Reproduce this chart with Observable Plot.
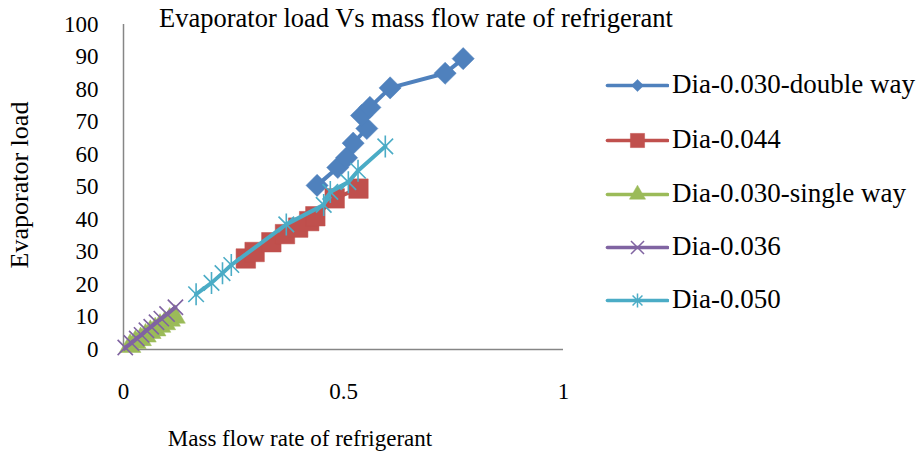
<!DOCTYPE html>
<html>
<head>
<meta charset="utf-8">
<script src="https://cdn.jsdelivr.net/npm/d3@7"></script>
<script src="https://cdn.jsdelivr.net/npm/@observablehq/plot@0.6"></script>
<style>
  html, body { margin: 0; padding: 0; background: #fff; }
  #wrap { position: relative; width: 921px; height: 463px; font-family: "Liberation Serif", serif; color: #000; }
  #wrap > svg { position: absolute; left: 0; top: 0; }
  .ov { position: absolute; white-space: nowrap; font-family: "Liberation Serif", serif; }
  .legrow { position: absolute; left: 605px; width: 316px; height: 30px; white-space: nowrap; }
  .legrow svg { position: absolute; left: 0; top: 0; max-width: none !important; }
  .legrow span { position: absolute; left: 67px; top: 50%; transform: translateY(-52%); font-size: 27px; line-height: 1; font-family: "Liberation Serif", serif; }
</style>
</head>
<body>
<div id="wrap"></div>
<script>
// ---- data ----
const seriesNames = ["Dia-0.030-double way", "Dia-0.044", "Dia-0.030-single way", "Dia-0.036", "Dia-0.050"];
const seriesColors = ["#4F81BD", "#C0504D", "#9BBB59", "#8064A2", "#4BACC6"];

const doubleWayX = [0.44, 0.487, 0.507, 0.522, 0.553, 0.541, 0.560, 0.606, 0.731, 0.772];
const doubleWayY = [50.5, 56.0, 59.0, 63.5, 68.0, 72.0, 74.5, 80.5, 85.0, 89.5];

const dia044X = [0.278, 0.298, 0.336, 0.367, 0.397, 0.422, 0.436, 0.480, 0.534];
const dia044Y = [28.0, 30.0, 33.0, 35.5, 37.5, 39.5, 41.0, 46.5, 49.5];

const singleWayX = [0.015, 0.027, 0.039, 0.050, 0.061, 0.072, 0.083, 0.094, 0.105, 0.116];
const singleWayY = [1.0, 2.2, 3.1, 4.2, 5.3, 6.1, 7.2, 8.0, 9.1, 10.0];

const dia036X = [0.004, 0.018, 0.030, 0.041, 0.052, 0.063, 0.075, 0.086, 0.099, 0.118];
const dia036Y = [0.6, 2.0, 3.4, 4.5, 5.9, 7.0, 8.4, 9.5, 10.9, 13.0];

const dia050X = [0.165, 0.200, 0.225, 0.245, 0.370, 0.455, 0.470, 0.511, 0.533, 0.595];
const dia050Y = [17.0, 20.5, 23.5, 26.0, 38.5, 44.5, 48.5, 51.5, 55.0, 62.5];

const xTicks = [0, 0.5, 1];
const yTicks = [0, 10, 20, 30, 40, 50, 60, 70, 80, 90, 100];

const chartTitle = "Evaporator load Vs mass flow rate of refrigerant";
const xTitle = "Mass flow rate of refrigerant";
const yTitle = "Evaporator load";

// ---- build table ----
const xs = [doubleWayX, dia044X, singleWayX, dia036X, dia050X];
const ys = [doubleWayY, dia044Y, singleWayY, dia036Y, dia050Y];
const series = seriesNames.map((name, i) => ({
  name, color: seriesColors[i],
  data: xs[i].map((x, j) => ({x, y: ys[i][j], s: name}))
}));

// Excel-style asterisk: X plus vertical bar
const excelStar = {
  draw(ctx, size) {
    const r = Math.sqrt(size / Math.PI);
    const d = r * Math.SQRT1_2;
    ctx.moveTo(0, -r); ctx.lineTo(0, r);
    ctx.moveTo(-d, -d); ctx.lineTo(d, d);
    ctx.moveTo(-d, d); ctx.lineTo(d, -d);
  }
};

const markerSpec = [
  {symbol: "diamond2", r: 10, fill: true},
  {symbol: "square", r: 11, fill: true},
  {symbol: "triangle", r: 8, fill: true},
  {symbol: "times", r: 7, fill: false},
  {symbol: excelStar, r: 11, fill: false}
];

const marks = [
  Plot.axisX({ticks: xTicks, tickFormat: d => String(d), tickSize: 0, tickPadding: 33, fontSize: 23}),
  Plot.axisY({ticks: yTicks, tickSize: 0, tickPadding: 25, fontSize: 23}),
  Plot.ruleY([0], {stroke: "#868686", strokeWidth: 1.5}),
  Plot.ruleX([0], {stroke: "#868686", strokeWidth: 1.5})
];
series.forEach((s, i) => {
  const m = markerSpec[i];
  marks.push(Plot.line(s.data, {x: "x", y: "y", stroke: s.color, strokeWidth: 4, strokeLinejoin: "round", strokeLinecap: "round"}));
  marks.push(Plot.dot(s.data, {
    x: "x", y: "y", symbol: m.symbol, r: m.r,
    fill: m.fill ? s.color : "none",
    stroke: s.color, strokeWidth: m.fill ? 0.5 : 1.6
  }));
});

const plot = Plot.plot({
  width: 921, height: 463,
  marginLeft: 123, marginRight: 358, marginTop: 24, marginBottom: 114,
  style: {fontFamily: "'Liberation Serif', serif", fontSize: "23px", color: "#000", background: "transparent"},
  x: {domain: [0, 1], label: null},
  y: {domain: [0, 100], label: null},
  marks
});

const wrap = document.getElementById("wrap");
wrap.appendChild(plot);

// Title
const t = document.createElement("div");
t.className = "ov";
t.textContent = chartTitle;
t.style.cssText += "left:416px;top:3px;transform:translateX(-50%);font-size:26.5px;";
wrap.appendChild(t);

// X title
const xt = document.createElement("div");
xt.className = "ov";
xt.textContent = xTitle;
xt.style.cssText += "left:300px;top:426px;transform:translateX(-50%);font-size:23px;";
wrap.appendChild(xt);

// Y title
const yt = document.createElement("div");
yt.className = "ov";
yt.textContent = yTitle;
yt.style.cssText += "left:20px;top:185px;transform:translate(-50%,-50%) rotate(-90deg);font-size:26px;";
wrap.appendChild(yt);

// Legend
const legRowsY = [85, 140, 194, 247, 300];
const legMarker = [
  {symbol: "diamond2", r: 5.5, fill: true},
  {symbol: "square", r: 8, fill: true},
  {symbol: "triangle", r: 6, fill: true},
  {symbol: "times", r: 6, fill: false},
  {symbol: excelStar, r: 7, fill: false}
];
series.forEach((s, i) => {
  const row = document.createElement("div");
  row.className = "legrow";
  row.style.top = (legRowsY[i] - 15) + "px";
  const m = legMarker[i];
  const sw = Plot.plot({
    width: 64, height: 30, margin: 0,
    x: {domain: [0, 1], axis: null}, y: {domain: [0, 1], axis: null},
    marks: [
      Plot.line([{x: 0.03, y: 0.5}, {x: 0.97, y: 0.5}], {x: "x", y: "y", stroke: s.color, strokeWidth: 3.5}),
      Plot.dot([{x: 0.5, y: 0.5}], {x: "x", y: "y", symbol: m.symbol, r: m.r,
        fill: m.fill ? s.color : "none", stroke: s.color, strokeWidth: m.fill ? 0.5 : 1.5})
    ]
  });
  row.appendChild(sw);
  const lab = document.createElement("span");
  lab.textContent = s.name;
  row.appendChild(lab);
  wrap.appendChild(row);
});
</script>
</body>
</html>
